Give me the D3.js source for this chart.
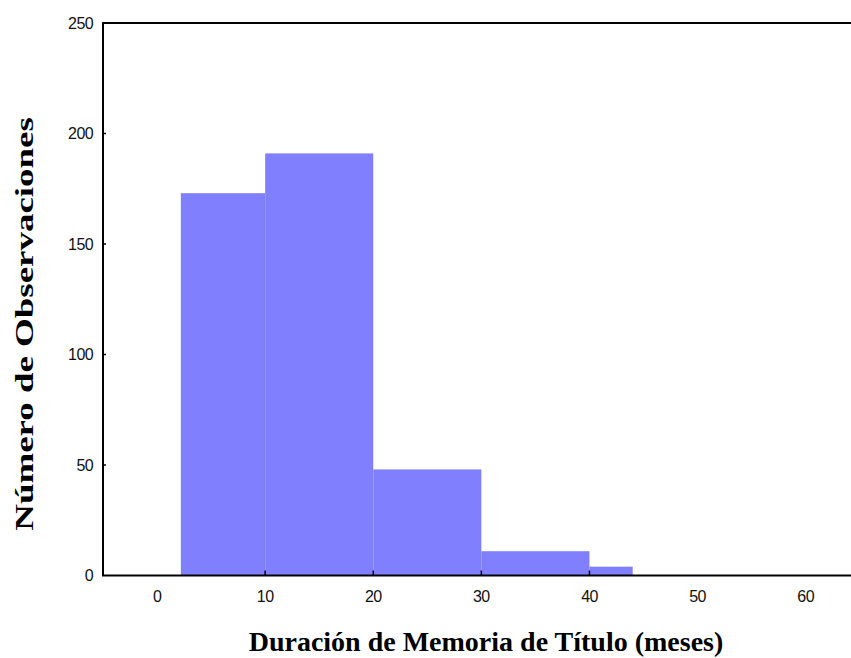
<!DOCTYPE html>
<html>
<head>
<meta charset="utf-8">
<script src="https://cdn.jsdelivr.net/npm/d3@7"></script>
<style>
  html, body { margin: 0; padding: 0; background: #fff; }
  svg { display: block; }
</style>
</head>
<body>
<script>
// Histogram bins (months) and counts
const binEdges = [2.2, 10, 20, 30, 40, 44];
const counts = [173, 191, 48, 11, 4];
const xTicks = [0, 10, 20, 30, 40, 50, 60];
const xTickMarks = [10, 20, 30, 40];
const yTicks = [0, 50, 100, 150, 200, 250];
const yTickMarks = [50, 100, 150, 200];
const xTitle = "Duración de Memoria de Título (meses)";
const yTitle = "Número de Observaciones";

const W = 851, H = 658;
const svg = d3.select("body").append("svg").attr("width", W).attr("height", H);

const x = d3.scaleLinear().domain([-5, 65]).range([103, 103 + 70 * 10.81]);
const y = d3.scaleLinear().domain([0, 250]).range([575.5, 23]);

const bins = counts.map((c, i) => ({ x0: binEdges[i], x1: binEdges[i + 1], n: c }));

svg.append("g").selectAll("rect").data(bins).join("rect")
  .attr("x", d => x(d.x0))
  .attr("y", d => y(d.n))
  .attr("width", d => x(d.x1) - x(d.x0))
  .attr("height", d => y(0) - y(d.n))
  .attr("fill", "#8080ff");

// frame lines: left axis, top line, bottom axis
const x0 = x.range()[0];
svg.append("line").attr("x1", x0).attr("x2", x0).attr("y1", y(250)).attr("y2", y(0))
  .attr("stroke", "#000").attr("stroke-width", 2);
svg.append("line").attr("x1", x0 - 1).attr("x2", W).attr("y1", y(250)).attr("y2", y(250))
  .attr("stroke", "#000").attr("stroke-width", 2);
svg.append("line").attr("x1", x0 - 1).attr("x2", W).attr("y1", y(0)).attr("y2", y(0))
  .attr("stroke", "#000").attr("stroke-width", 2);

// tick marks
svg.append("g").selectAll("line").data(xTickMarks).join("line")
  .attr("x1", d => x(d)).attr("x2", d => x(d))
  .attr("y1", y(0)).attr("y2", y(0) - 5)
  .attr("stroke", "#000").attr("stroke-width", 1.5);
svg.append("g").selectAll("line").data(yTickMarks).join("line")
  .attr("x1", x0).attr("x2", x0 + 3)
  .attr("y1", d => y(d)).attr("y2", d => y(d))
  .attr("stroke", "#000").attr("stroke-width", 1.5);

// tick labels
const tickFont = "'Liberation Sans', Arial, sans-serif";
svg.append("g").selectAll("text").data(yTicks).join("text")
  .attr("x", 93).attr("y", d => y(d)).attr("dy", "0.36em")
  .attr("text-anchor", "end")
  .attr("font-family", tickFont).attr("font-size", 16)
  .attr("letter-spacing", -0.6)
  .attr("fill", "#111")
  .text(d => d);
svg.append("g").selectAll("text").data(xTicks).join("text")
  .attr("x", d => x(d)).attr("y", 602)
  .attr("text-anchor", "middle")
  .attr("font-family", tickFont).attr("font-size", 16)
  .attr("letter-spacing", -0.6)
  .attr("fill", "#111")
  .text(d => d);

// axis titles
const titleFont = "'Liberation Serif', 'Times New Roman', serif";
svg.append("text")
  .attr("x", 486).attr("y", 651)
  .attr("text-anchor", "middle")
  .attr("font-family", titleFont).attr("font-size", 28).attr("font-weight", "bold")
  .attr("fill", "#000")
  .text(xTitle);
svg.append("text")
  .attr("transform", "translate(33,324) rotate(-90) scale(1.42,1)")
  .attr("text-anchor", "middle")
  .attr("font-family", titleFont).attr("font-size", 26).attr("font-weight", "bold")
  .attr("fill", "#000")
  .text(yTitle);
</script>
</body>
</html>
